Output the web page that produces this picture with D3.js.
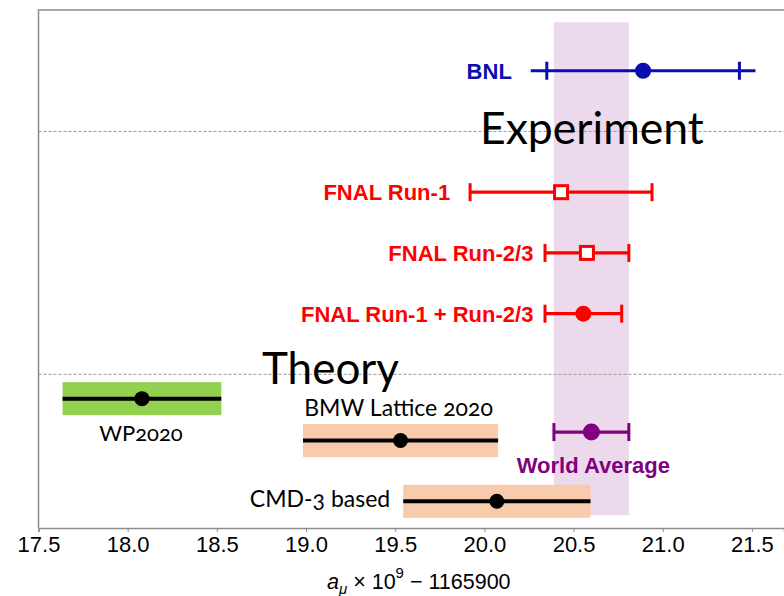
<!DOCTYPE html>
<html>
<head>
<meta charset="utf-8">
<script src="https://cdn.jsdelivr.net/npm/d3@7"></script>
<style>
  body { margin: 0; background: #fff; }
  svg { display: block; }
</style>
</head>
<body>
<script>
// Experimental measurements (a_mu x 1e9 - 1165900)
const expLabels = ["BNL", "FNAL Run-1", "FNAL Run-2/3", "FNAL Run-1 + Run-2/3"];
const expValues = [20.89, 20.43, 20.575, 20.555];
const expErrors = [0.54, 0.51, 0.235, 0.215];      // caps
const expTotalErrors = [0.63, 0.51, 0.235, 0.215]; // line extent
const expRows = [0, 2, 3, 4];
const expColors = ["#0c0cb0", "#ff0000", "#ff0000", "#ff0000"];
const expMarkers = ["circle", "square", "square", "circle"];

// World average
const waLabel = "World Average";
const waValue = 20.6;
const waError = 0.21;
const waRow = 5.95;

// Theory predictions
const thLabels = ["WP2020", "BMW Lattice 2020", "CMD-3 based"];
const thValues = [18.08, 19.53, 20.07];
const thErrors = [0.445, 0.547, 0.525];
const thRows = [5.4, 6.09, 7.09];
const thColors = ["#92d050", "#f8cbad", "#f8cbad"];

const xTicks = [17.5, 18.0, 18.5, 19.0, 19.5, 20.0, 20.5, 21.0, 21.5];
const separatorRows = [1, 5];

let width = 784;
let height = 596;
let margin = { top: 10, bottom: 68, left: 38.5 };

let svg = d3.select("body")
  .append("svg")
  .attr("width", width)
  .attr("height", height);

let xScale = d3.scaleLinear()
  .domain([17.5, 21.68])
  .range([margin.left, 784]);

let yScale = d3.scaleLinear()
  .domain([-1, 7.53])
  .range([margin.top, height - margin.bottom]);

let bold = "'Liberation Sans', Arial, sans-serif";
let soft = "Lato, 'Open Sans', sans-serif";

// world average band
svg.append("rect")
  .attr("x", xScale(waValue - waError))
  .attr("width", xScale(waValue + waError) - xScale(waValue - waError))
  .attr("y", yScale(-0.8))
  .attr("height", yScale(7.32) - yScale(-0.8))
  .attr("fill", "#800080")
  .attr("fill-opacity", 0.15);

// separators
svg.selectAll(".sep")
  .data(separatorRows)
  .enter().append("line")
  .attr("x1", margin.left).attr("x2", width)
  .attr("y1", d => yScale(d)).attr("y2", d => yScale(d))
  .attr("stroke", "#999")
  .attr("stroke-width", 1)
  .attr("stroke-dasharray", "3,2");

// frame
svg.append("path")
  .attr("d", `M${width + 2},${margin.top}H${margin.left}V${height - margin.bottom}`)
  .attr("fill", "none")
  .attr("stroke", "#8c8c8c")
  .attr("stroke-width", 1.5);

// x axis
let xAxis = svg.append("g")
  .attr("transform", `translate(0, ${height - margin.bottom})`)
  .call(d3.axisBottom(xScale).tickValues(xTicks).tickFormat(d3.format(".1f")).tickSize(4).tickPadding(4));
xAxis.select(".domain").attr("stroke", "#8c8c8c").attr("stroke-width", 1.5);
xAxis.selectAll(".tick line").attr("stroke", "#8c8c8c");
xAxis.selectAll(".tick text")
  .attr("fill", "#000")
  .style("font-family", "'Liberation Sans', Arial, sans-serif")
  .style("font-size", "22px");

// axis label
let xl = svg.append("text")
  .attr("x", 327)
  .attr("y", 589)
  .style("font-family", "'Liberation Sans', Arial, sans-serif")
  .style("font-size", "21.5px")
  .attr("fill", "#000");
xl.append("tspan").style("font-style", "italic").text("a");
xl.append("tspan").style("font-style", "italic").style("font-size", "15px").attr("dy", 5).text("μ");
xl.append("tspan").attr("dy", -5).text(" × 10");
xl.append("tspan").style("font-size", "15px").attr("dy", -11).text("9");
xl.append("tspan").attr("dy", 11).text(" − 1165900");

// experiment rows
let exp = svg.selectAll(".exp")
  .data(expLabels.map((d, i) => ({ label: d, v: expValues[i], e: expErrors[i], t: expTotalErrors[i], row: expRows[i], color: expColors[i], marker: expMarkers[i] })))
  .enter().append("g")
  .attr("class", "exp");

exp.append("line")
  .attr("x1", d => xScale(d.v - d.t)).attr("x2", d => xScale(d.v + d.t))
  .attr("y1", d => yScale(d.row)).attr("y2", d => yScale(d.row))
  .attr("stroke", d => d.color)
  .attr("stroke-width", 3.2);

exp.selectAll(".cap")
  .data(d => [d.v - d.e, d.v + d.e].map(x => ({ x: x, row: d.row, color: d.color })))
  .enter().append("line")
  .attr("x1", c => xScale(c.x)).attr("x2", c => xScale(c.x))
  .attr("y1", c => yScale(c.row) - 9).attr("y2", c => yScale(c.row) + 9)
  .attr("stroke", c => c.color)
  .attr("stroke-width", 3);

exp.filter(d => d.marker === "circle").append("circle")
  .attr("cx", d => xScale(d.v)).attr("cy", d => yScale(d.row))
  .attr("r", 8)
  .attr("fill", d => d.color);

exp.filter(d => d.marker === "square").append("rect")
  .attr("x", d => xScale(d.v) - 6.5).attr("y", d => yScale(d.row) - 6.5)
  .attr("width", 13).attr("height", 13)
  .attr("fill", "#fff")
  .attr("stroke", d => d.color)
  .attr("stroke-width", 3);

// label right edges, in data units
const expLabelX = [20.154, 19.808, 20.275, 20.275];
exp.append("text")
  .attr("x", (d, i) => xScale(expLabelX[i]))
  .attr("y", d => yScale(d.row) + 8)
  .attr("text-anchor", "end")
  .style("font-family", bold)
  .style("font-weight", "bold")
  .style("font-size", "22px")
  .attr("fill", d => d.color)
  .text(d => d.label);

// world average point
let wa = svg.append("g");
wa.append("line")
  .attr("x1", xScale(waValue - waError)).attr("x2", xScale(waValue + waError))
  .attr("y1", yScale(waRow)).attr("y2", yScale(waRow))
  .attr("stroke", "#800080").attr("stroke-width", 3.2);
wa.selectAll(".cap")
  .data([waValue - waError, waValue + waError])
  .enter().append("line")
  .attr("x1", d => xScale(d)).attr("x2", d => xScale(d))
  .attr("y1", yScale(waRow) - 9).attr("y2", yScale(waRow) + 9)
  .attr("stroke", "#800080").attr("stroke-width", 3);
wa.append("circle")
  .attr("cx", xScale(waValue)).attr("cy", yScale(waRow))
  .attr("r", 8.5).attr("fill", "#800080");
wa.append("text")
  .attr("x", xScale(waValue) + 2)
  .attr("y", yScale(waRow) + 41)
  .attr("text-anchor", "middle")
  .style("font-family", bold)
  .style("font-weight", "bold")
  .style("font-size", "22px")
  .attr("fill", "#800080")
  .text(waLabel);

// theory rows
let th = svg.selectAll(".th")
  .data(thLabels.map((d, i) => ({ label: d, v: thValues[i], e: thErrors[i], row: thRows[i], color: thColors[i] })))
  .enter().append("g")
  .attr("class", "th");

th.append("rect")
  .attr("x", d => xScale(d.v - d.e))
  .attr("width", d => xScale(d.v + d.e) - xScale(d.v - d.e))
  .attr("y", d => yScale(d.row) - 16.5)
  .attr("height", 33)
  .attr("fill", d => d.color);

th.append("line")
  .attr("x1", d => xScale(d.v - d.e)).attr("x2", d => xScale(d.v + d.e))
  .attr("y1", d => yScale(d.row)).attr("y2", d => yScale(d.row))
  .attr("stroke", "#000").attr("stroke-width", 4);

th.append("circle")
  .attr("cx", d => xScale(d.v)).attr("cy", d => yScale(d.row))
  .attr("r", 7.5).attr("fill", "#000");

// theory labels: WP below, BMW above, CMD-3 at left
const thLabelPlace = [
  { anchor: "middle", dx: -1, dy: 42, size: 22 },
  { anchor: "middle", dx: -2, dy: -25, size: 23 },
  { anchor: "end", dx: -13, dy: 6, size: 23 }
];
th.append("text")
  .attr("x", (d, i) => (thLabelPlace[i].anchor === "end" ? xScale(d.v - d.e) : xScale(d.v)) + thLabelPlace[i].dx)
  .attr("y", (d, i) => yScale(d.row) + thLabelPlace[i].dy)
  .attr("text-anchor", (d, i) => thLabelPlace[i].anchor)
  .style("font-family", soft)
  .style("font-size", (d, i) => thLabelPlace[i].size + "px")
  .style("font-variant-numeric", "oldstyle-nums")
  .attr("fill", "#000")
  .text(d => d.label);

// section titles
svg.append("text")
  .attr("x", 480).attr("y", 144)
  .style("font-family", soft)
  .style("font-size", "44.5px")
  .attr("fill", "#000")
  .text("Experiment");

svg.append("text")
  .attr("x", 262).attr("y", 384)
  .style("font-family", soft)
  .style("font-size", "44px")
  .attr("fill", "#000")
  .text("Theory");
</script>
</body>
</html>
